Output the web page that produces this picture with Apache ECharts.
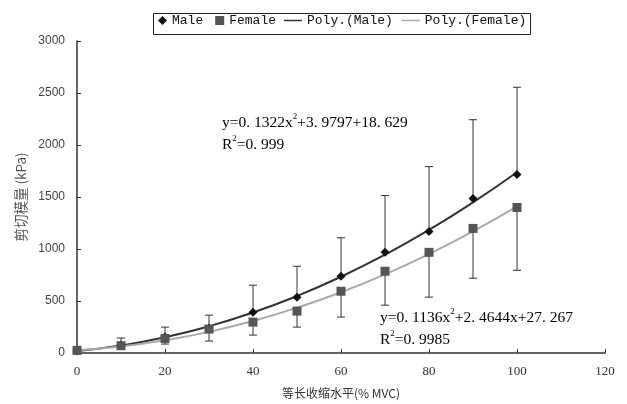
<!DOCTYPE html>
<html><head><meta charset="utf-8">
<script src="https://cdn.jsdelivr.net/npm/echarts@6/dist/echarts.min.js"></script>
<style>html,body{margin:0;padding:0;background:#fff}#c{width:627px;height:404px}</style>
</head><body><div id="c"></div>
<script>
const xs = [0, 10, 20, 30, 40, 50, 60, 70, 80, 90, 100];
const maleMean = [20, 77, 153, 240, 393, 537, 738, 968, 1169, 1486, 1716];
const maleUpper = [30, 144, 249, 364, 652, 834, 1108, 1514, 1792, 2243, 2555];
const femaleMean = [25, 70, 140, 230, 297, 403, 594, 786, 968, 1198, 1399];
const femaleLower = [15, 48, 86, 115, 172, 249, 345, 460, 537, 719, 795];
const maleTrend = [19, 72, 151, 257, 389, 548, 733, 945, 1183, 1448, 1738];
const femaleTrend = [27, 63, 122, 203, 308, 435, 584, 756, 952, 1169, 1410];
const xTicks = [0, 20, 40, 60, 80, 100, 120];
const yTicks = [0, 500, 1000, 1500, 2000, 2500, 3000];

const pair = (a, b) => a.map((v, i) => b ? [xs[i], v, b[i]] : [xs[i], v]);

function errBar(params, api) {
  const x = api.value(0);
  const p1 = api.coord([x, api.value(1)]);
  const p2 = api.coord([x, api.value(2)]);
  const w = 4;
  const st = { stroke: '#333', lineWidth: 1 };
  return { type: 'group', children: [
    { type: 'line', shape: { x1: p1[0], y1: p1[1], x2: p2[0], y2: p2[1] }, style: st },
    { type: 'line', shape: { x1: p2[0] - w, y1: p2[1], x2: p2[0] + w, y2: p2[1] }, style: st }
  ]};
}

const chart = echarts.init(document.getElementById('c'));
const serif = 'Liberation Serif';
const lineIcon = 'path://M0,0L24,0L24,2L0,2Z';
const diamondIcon = 'path://M5,0L10,5L5,10L0,5Z';
const squareIcon = 'path://M0,0L10,0L10,10L0,10Z';
const legendText = { fontFamily: 'Liberation Mono', fontSize: 13, color: '#111' };
const eqRich = {
  a: { fontFamily: serif, fontSize: 15.5, color: '#222', lineHeight: 22 },
  s: { fontFamily: serif, fontSize: 9, color: '#222', verticalAlign: 'top', lineHeight: 22 }
};
chart.setOption({
  animation: false,
  grid: { left: 77, right: 22, top: 41, bottom: 50 },
  legend: [{
    left: 158, top: 14, padding: 0, itemGap: 12, itemWidth: 9, itemHeight: 9,
    textStyle: legendText,
    data: [
      { name: 'Male', icon: diamondIcon, itemStyle: { color: '#111' } },
      { name: 'Female', icon: squareIcon, itemStyle: { color: '#555' } }
    ]
  }, {
    left: 284, top: 14, padding: 0, itemGap: 9, itemWidth: 18, itemHeight: 9,
    textStyle: legendText,
    data: [
      { name: 'Poly.(Male)', icon: lineIcon, itemStyle: { color: '#333' } },
      { name: 'Poly.(Female)', icon: lineIcon, itemStyle: { color: '#aaa' } }
    ]
  }],
  xAxis: {
    type: 'value', min: 0, max: 120, interval: 20,
    name: '等长收缩水平(% MVC)', nameLocation: 'middle', nameGap: 34,
    nameTextStyle: { fontFamily: 'Noto Sans CJK SC', fontSize: 12, color: '#333' },
    axisLine: { lineStyle: { color: '#333', width: 1.5 } },
    axisTick: { inside: true, length: 4, lineStyle: { color: '#333' } },
    axisLabel: { fontFamily: serif, fontSize: 13, color: '#333', margin: 12, formatter: v => String(v) },
    splitLine: { show: false }
  },
  yAxis: {
    type: 'value', min: 0, max: 3000, interval: 500,
    name: '剪切模量 (kPa)', nameLocation: 'middle', nameGap: 45,
    nameTextStyle: { fontFamily: 'Noto Sans CJK SC', fontSize: 13.5, color: '#555' },
    axisLine: { show: true, lineStyle: { color: '#333', width: 1.5 } },
    axisTick: { show: true, inside: true, length: 4, lineStyle: { color: '#333' } },
    axisLabel: { fontFamily: 'Liberation Sans', fontSize: 12, color: '#444', margin: 12, formatter: v => String(v) },
    splitLine: { show: false }
  },
  graphic: [
    { type: 'rect', left: 151, top: 11, shape: { width: 377, height: 21 }, style: { fill: 'none', stroke: '#222', lineWidth: 1 } },
    { type: 'text', left: 222, top: 112, style: {
      text: '{a|y=0. 1322x}{s|2}{a|+3. 9797+18. 629}\n{a|R}{s|2}{a|=0. 999}', rich: eqRich } },
    { type: 'text', left: 380, top: 307, style: {
      text: '{a|y=0. 1136x}{s|2}{a|+2. 4644x+27. 267}\n{a|R}{s|2}{a|=0. 9985}', rich: eqRich } }
  ],
  series: [
    { name: 'MaleErr', type: 'custom', renderItem: errBar, data: pair(maleMean, maleUpper), z: 1 },
    { name: 'FemaleErr', type: 'custom', renderItem: errBar, data: pair(femaleMean, femaleLower), z: 1 },
    { name: 'Poly.(Male)', type: 'line', smooth: true, symbol: 'none', data: pair(maleTrend), lineStyle: { color: '#333', width: 2 }, itemStyle: { color: '#333' }, z: 2 },
    { name: 'Poly.(Female)', type: 'line', smooth: true, symbol: 'none', data: pair(femaleTrend), lineStyle: { color: '#aaa', width: 2 }, itemStyle: { color: '#aaa' }, z: 2 },
    { name: 'Male', type: 'scatter', symbol: 'diamond', symbolSize: 9, symbolKeepAspect: true, data: pair(maleMean), itemStyle: { color: '#111', opacity: 1 }, z: 3 },
    { name: 'Female', type: 'scatter', symbol: 'rect', symbolSize: 9, symbolKeepAspect: true, data: pair(femaleMean), itemStyle: { color: '#555', opacity: 1 }, z: 4 }
  ]
});
</script></body></html>
